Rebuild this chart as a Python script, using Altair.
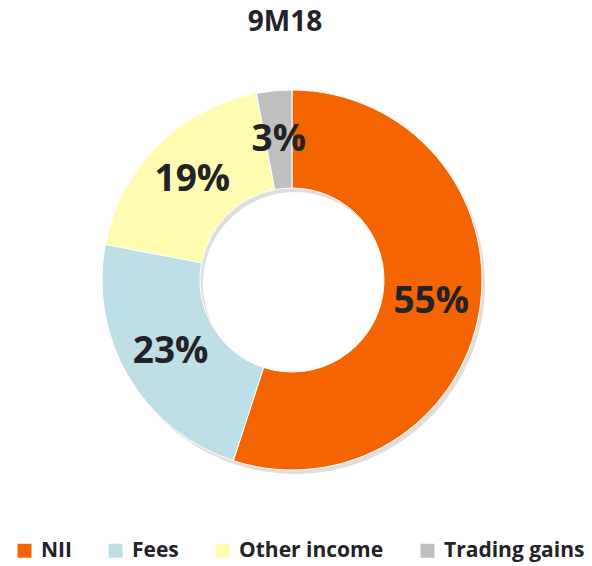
import altair as alt
import pandas as pd

categories = ["NII", "Fees", "Other income", "Trading gains"]
values = [55, 23, 19, 3]
labels = ["55%", "23%", "19%", "3%"]
colors = ["#F46400", "#BEDFE6", "#FFFBB1", "#BFBFBF"]

df = pd.DataFrame({
    "category": categories,
    "value": values,
    "label": labels,
    "idx": list(range(len(categories))),
})

CX, CY = 284, 232
R_OUT, R_IN, R_LAB = 190, 92, 141

base = alt.Chart(df).encode(
    theta=alt.Theta("value:Q", stack=True),
    order=alt.Order("idx:Q", sort="ascending"),
)

shadow = base.mark_arc(
    outerRadius=R_OUT, innerRadius=R_IN, color="#c8c8c8", opacity=0.6
).encode(x=alt.value(CX + 3), y=alt.value(CY + 4))

arcs = base.mark_arc(
    outerRadius=R_OUT, innerRadius=R_IN, stroke="white", strokeWidth=1
).encode(
    x=alt.value(CX),
    y=alt.value(CY),
    color=alt.Color(
        "category:N",
        scale=alt.Scale(domain=categories, range=colors),
        sort=categories,
        legend=alt.Legend(
            title=None,
            orient="none",
            legendX=6,
            legendY=492,
            direction="horizontal",
            symbolType="square",
            symbolSize=196,
            symbolStrokeWidth=0,
            labelFontSize=21,
            labelFont="Open Sans",
            labelFontWeight="bold",
            labelColor="#222228",
            labelOffset=6,
            columnPadding=33,
        ),
    ),
)

text = base.mark_text(
    radius=R_LAB, fontSize=37, fontWeight="bold", font="Open Sans", color="#222228"
).encode(x=alt.value(CX), y=alt.value(CY), text="label:N")

chart = (
    alt.layer(shadow, arcs, text)
    .properties(
        width=576,
        height=518,
        autosize=alt.AutoSizeParams(type="none"),
        padding={"left": 0, "top": 40, "right": 0, "bottom": 0},
        title=alt.TitleParams(
            "9M18", fontSize=28, fontWeight="bold", font="Open Sans",
            color="#222228", anchor="middle", dx=-11, offset=11,
        ),
    )
    .configure_view(stroke=None)
)

chart.save("out.html", embed_options={"renderer": "svg", "actions": False})
